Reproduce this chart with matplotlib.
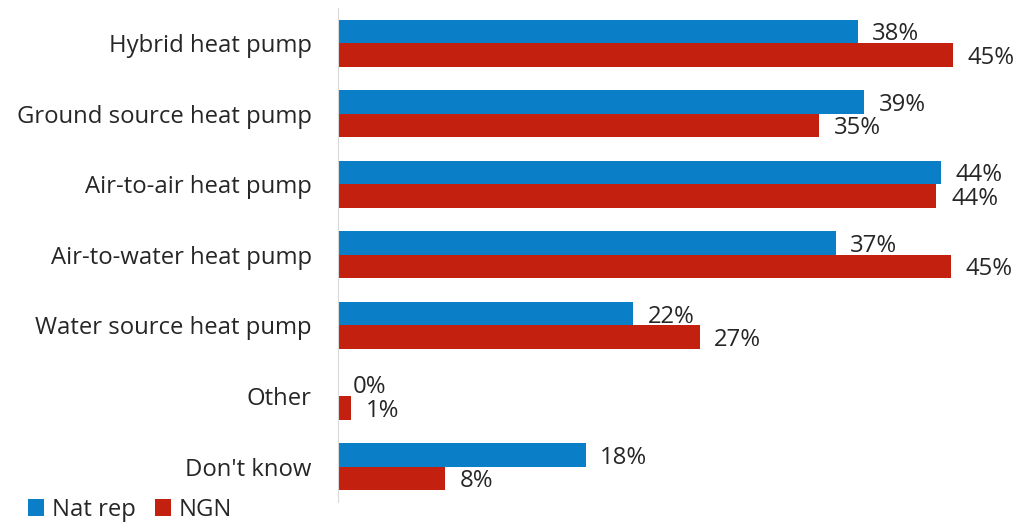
import numpy as np
import matplotlib.pyplot as plt

plt.rcParams['font.family'] = ['Open Sans', 'DejaVu Sans']

categories = ['Hybrid heat pump', 'Ground source heat pump', 'Air-to-air heat pump',
              'Air-to-water heat pump', 'Water source heat pump', 'Other', "Don't know"]
nat_rep = [38.2, 38.7, 44.3, 36.6, 21.7, 0.0, 18.2]
ngn = [45.2, 35.4, 44.0, 45.1, 26.6, 0.96, 7.9]

blue = '#0a7ec6'
red = '#c42010'
txt = '#262626'

fig = plt.figure(figsize=(10.35, 5.3), dpi=100)
ax = fig.add_axes([0.3266, 0.053, 0.657, 0.932])

y = np.arange(len(categories))
h = 0.333
b1 = ax.barh(y - h / 2, nat_rep, height=h, color=blue, label='Nat rep')
b2 = ax.barh(y + h / 2, ngn, height=h, color=red, label='NGN')

for bars, vals in ((b1, nat_rep), (b2, ngn)):
    for rect, v in zip(bars, vals):
        ax.annotate(f'{v:.0f}%', (rect.get_width(), rect.get_y() + rect.get_height() / 2),
                    xytext=(10.5, -2), textcoords='offset points', ha='left', va='center',
                    fontsize=17.2, color=txt)

ax.set_xlim(0, 50)
ax.set_ylim(len(categories) - 0.5, -0.5)
ax.set_yticks(y)
ax.set_yticklabels(categories, fontsize=17.2, color=txt)
ax.tick_params(axis='y', length=0, pad=19)
ax.set_xticks([])
for s in ['top', 'right', 'bottom']:
    ax.spines[s].set_visible(False)
ax.spines['left'].set_color('#d9d9d9')

fig.legend(handles=[b1, b2], labels=['Nat rep', 'NGN'], loc='lower left',
           bbox_to_anchor=(0.006, -0.025), ncol=2, frameon=False, fontsize=17.2,
           handlelength=0.7, handleheight=0.7, handletextpad=0.3, columnspacing=0.8,
           labelcolor=txt)

fig.savefig('out.png', dpi=100)
